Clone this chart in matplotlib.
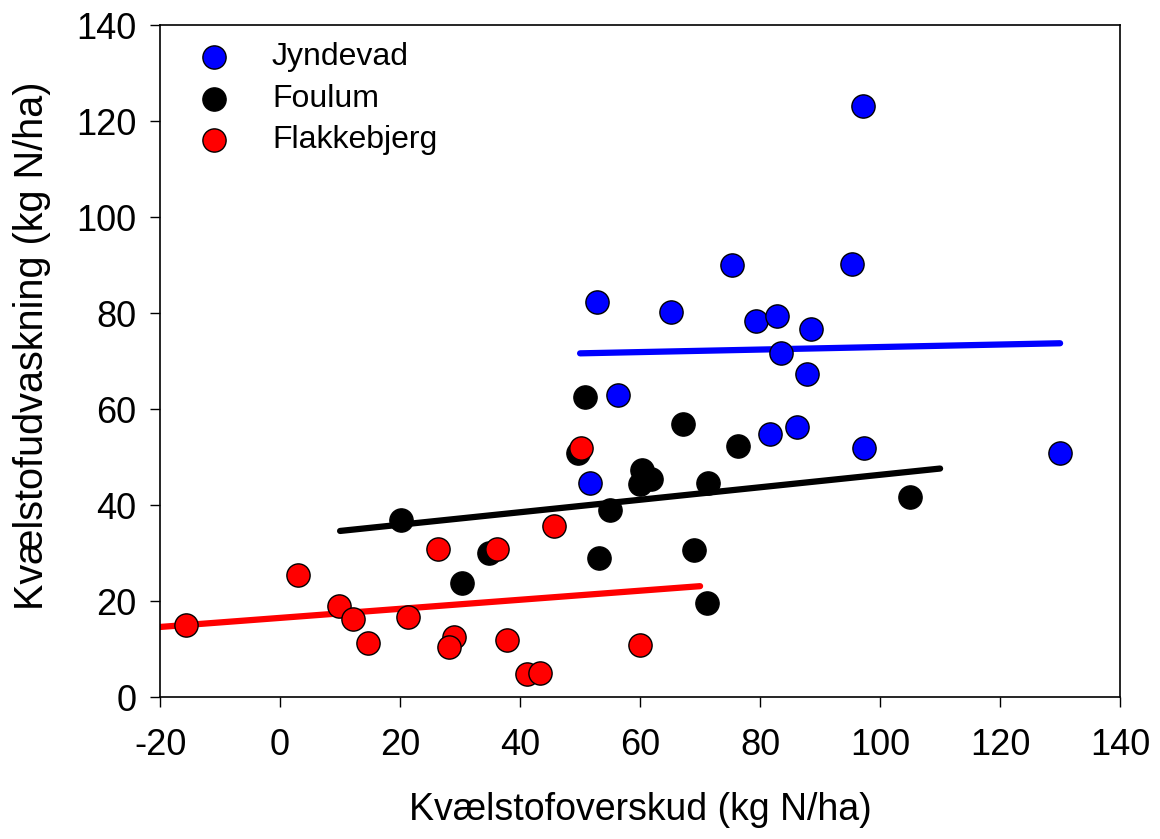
import matplotlib
matplotlib.use("Agg")
import matplotlib.pyplot as plt
import numpy as np

plt.rcParams['font.family'] = ['Liberation Sans', 'DejaVu Sans']
plt.rcParams['axes.unicode_minus'] = False

# Jyndevad
jyn_x = [97.2, 75.4, 95.4, 52.9, 65.2, 79.4, 82.9, 88.5, 83.5, 87.8, 56.4, 81.6, 86.1, 97.3, 130.0, 51.6]
jyn_y = [123.2, 89.9, 90.3, 82.2, 80.3, 78.4, 79.4, 76.6, 71.6, 67.2, 62.9, 54.9, 56.3, 51.8, 50.8, 44.6]

# Foulum
fou_x = [50.9, 67.1, 76.4, 49.6, 60.4, 61.9, 60.0, 71.4, 55.0, 20.2, 53.2, 69.0, 34.9, 30.3, 71.1, 105.0]
fou_y = [62.5, 56.8, 52.2, 50.8, 47.3, 45.4, 44.4, 44.5, 39.0, 36.9, 29.0, 30.6, 30.1, 23.8, 19.6, 41.7]

# Flakkebjerg
fla_x = [-15.7, 3.0, 9.8, 12.1, 14.7, 21.3, 26.4, 29.0, 28.2, 36.1, 37.8, 41.1, 43.3, 45.7, 60.0, 50.1]
fla_y = [15.0, 25.4, 19.0, 16.2, 11.2, 16.6, 30.8, 12.6, 10.5, 30.8, 11.9, 4.7, 5.1, 35.7, 10.9, 51.8]

# regression lines: (x start, x end, y start, y end)
jyn_fit = [50, 130, 71.6, 73.7]
fou_fit = [10, 110, 34.6, 47.6]
fla_fit = [-20, 70, 14.6, 23.1]

fig = plt.figure(figsize=(11.6, 8.39), dpi=100)
ax = fig.add_axes([0.138, 0.1692, 0.8276, 0.801])

for fit, col in [(jyn_fit, 'blue'), (fou_fit, 'black'), (fla_fit, 'red')]:
    ax.plot(fit[:2], fit[2:], color=col, linewidth=4.5, solid_capstyle='round', zorder=2)

ax.scatter(jyn_x, jyn_y, s=280, c='blue', edgecolors='black', linewidths=1, zorder=3, label='Jyndevad')
ax.scatter(fou_x, fou_y, s=280, c='black', edgecolors='black', linewidths=1, zorder=3, label='Foulum')
ax.scatter(fla_x, fla_y, s=280, c='red', edgecolors='black', linewidths=1, zorder=3, label='Flakkebjerg')

ax.set_xlim(-20, 140)
ax.set_ylim(0, 140)
ax.set_xticks(np.arange(-20, 141, 20))
ax.set_yticks(np.arange(0, 141, 20))
ax.tick_params(direction='out', length=7, width=1, labelsize=26, pad=10)
ax.tick_params(axis='x', pad=15)
for sp in ax.spines.values():
    sp.set_linewidth(1.2)

ax.set_xlabel('Kvælstofoverskud (kg N/ha)', fontsize=27, labelpad=21)
ax.set_ylabel('Kvælstofudvaskning (kg N/ha)', fontsize=28.5)
ax.yaxis.set_label_coords(-0.114, 0.522)

ax.legend(loc='upper left', frameon=False, fontsize=23, handlelength=2.0, handletextpad=0.8,
          labelspacing=0.36, borderaxespad=0.0, scatterpoints=1, markerscale=1.0,
          bbox_to_anchor=(0.01, 0.993))

fig.savefig('out.png', dpi=100)
